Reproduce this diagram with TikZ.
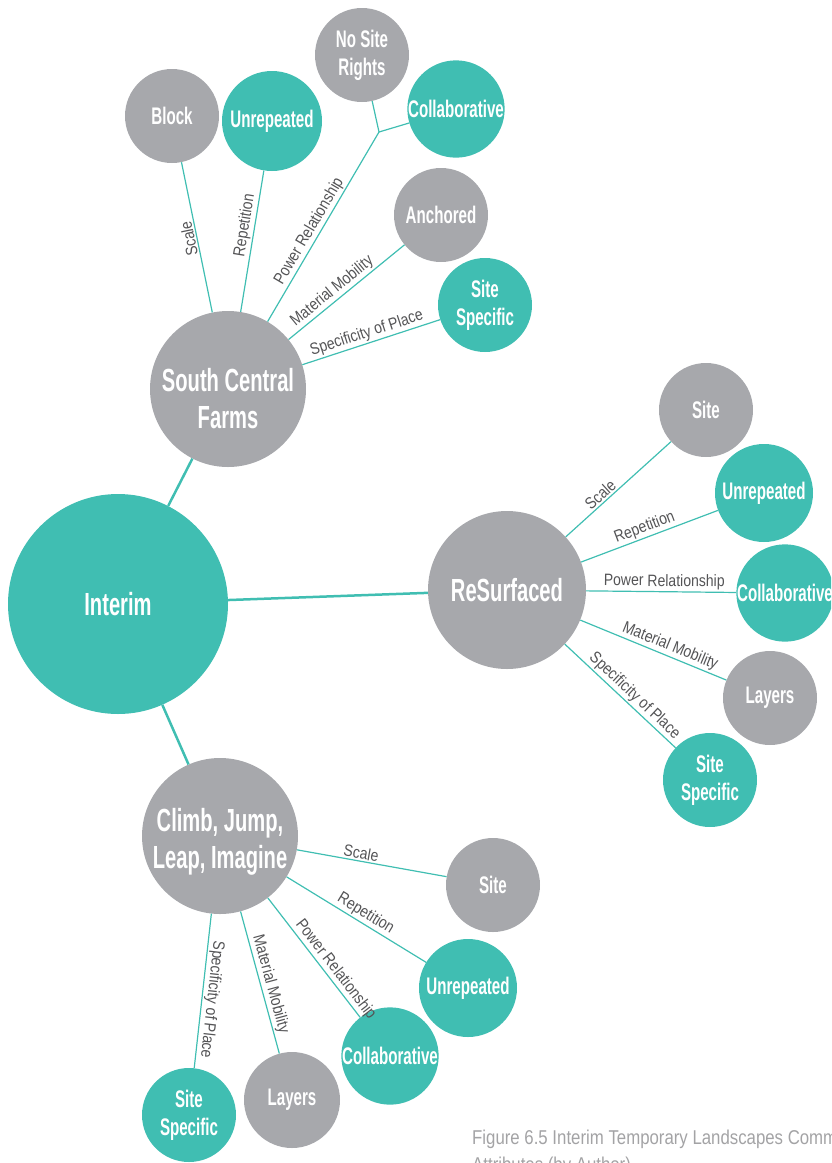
\documentclass[tikz,border=0pt]{standalone}
\usepackage{fontspec}
\newfontfamily\nodeff[FakeStretch=0.63]{Liberation Sans}
\newfontfamily\lblff[FakeStretch=0.85]{Liberation Sans}
\newfontfamily\capff[FakeStretch=0.84]{Liberation Sans}
\definecolor{tealc}{HTML}{40BEB2}
\definecolor{grayc}{HTML}{A7A8AC}
\definecolor{lblc}{HTML}{545456}
\definecolor{capc}{HTML}{A3A3A5}
\begin{document}
\begin{tikzpicture}[x=1pt,y=-1pt,
  circ/.style={circle, inner sep=0pt, minimum size=#1, text=white, align=center},
  bigtxt/.style={font=\nodeff\bfseries\fontsize{32}{37}\selectfont},
  smalltxt/.style={font=\nodeff\bfseries\fontsize{24}{28}\selectfont},
  tnode/.style={circ=#1, fill=tealc},
  gnode/.style={circ=#1, fill=grayc},
  inlabel/.style={bigtxt, text=white, align=center, inner sep=0pt},
  trunk/.style={draw=tealc, line width=2.5pt},
  branch/.style={draw=tealc, line width=1.2pt},
  lbl/.style={font=\lblff\fontsize{16.5}{18}\selectfont, text=lblc, inner sep=1.5pt, sloped, above},
  captxt/.style={font=\capff\fontsize{20}{27}\selectfont, text=capc, inner sep=0pt, align=left}
]
\useasboundingbox (0,0) rectangle (831,1163);
\clip (0,0) rectangle (831,1163);

% main nodes
\node[tnode=220pt, bigtxt] (interim) at (118,604) {Interim};
\node[gnode=156pt, label={[inlabel, yshift=-10pt]center:South Central\\Farms}] (scf) at (228,389) {};
\node[gnode=158pt, bigtxt] (res) at (507,590) {ReSurfaced};
\node[gnode=156pt, label={[inlabel, yshift=-6pt]center:Climb, Jump,\\Leap, Imagine}] (cjl) at (220,836) {};

% top cluster
\node[gnode=94pt, smalltxt] (block) at (172,116) {Block};
\node[tnode=100pt, smalltxt] (unr1) at (272,121) {Unrepeated};
\node[gnode=94pt, smalltxt] (nsr) at (362,55) {No Site\\Rights};
\node[tnode=94pt, smalltxt] (col1) at (456,109) {Collaborative};
\node[gnode=94pt, smalltxt] (anch) at (441,215) {Anchored};
\node[tnode=94pt, smalltxt] (ss1) at (485,305) {Site\\Specific};
\coordinate (junc) at (379,132);

% right cluster
\node[gnode=94pt, smalltxt] (site2) at (706,410) {Site};
\node[tnode=98pt, smalltxt] (unr2) at (764,493) {Unrepeated};
\node[tnode=94pt, smalltxt] (col2) at (785,593) {Collaborative};
\node[gnode=94pt, smalltxt] (lay2) at (770,698) {Layers};
\node[tnode=94pt, smalltxt] (ss2) at (710,780) {Site\\Specific};

% bottom cluster
\node[gnode=94pt, smalltxt] (site3) at (493,885) {Site};
\node[tnode=98pt, smalltxt] (unr3) at (468,988) {Unrepeated};
\node[tnode=94pt, smalltxt] (col3) at (390,1056) {Collaborative};
\node[gnode=96pt, smalltxt] (lay3) at (292,1100) {Layers};
\node[tnode=94pt, smalltxt] (ss3) at (189,1115) {Site\\Specific};

% trunks
\draw[trunk] (interim) -- (scf);
\draw[trunk] (interim) -- (res);
\draw[trunk] (interim) -- (cjl);

% top branches
\draw[branch] (scf) -- node[lbl, pos=0.5, allow upside down] {Scale} (block);
\draw[branch] (scf) -- node[lbl, pos=0.6] {Repetition} (unr1);
\draw[branch] (scf) -- node[lbl, pos=0.45] {Power Relationship} (junc);
\draw[branch] (junc) -- (nsr);
\draw[branch] (junc) -- (col1);
\draw[branch] (scf) -- node[lbl, pos=0.43] {Material Mobility} (anch);
\draw[branch] (scf) -- node[lbl, pos=0.49] {Specificity of Place} (ss1);

% right branches
\draw[branch] (res) -- node[lbl, pos=0.38] {Scale} (site2);
\draw[branch] (res) -- node[lbl, pos=0.49] {Repetition} (unr2);
\draw[branch] (res) -- node[lbl, pos=0.52] {Power Relationship} (col2);
\draw[branch] (res) -- node[lbl, pos=0.59] {Material Mobility} (lay2);
\draw[branch] (res) -- node[lbl, pos=0.57] {Specificity of Place} (ss2);

% bottom branches
\draw[branch] (cjl) -- node[lbl, pos=0.42] {Scale} (site3);
\draw[branch] (cjl) -- node[lbl, pos=0.53] {Repetition} (unr3);
\draw[branch] (cjl) -- node[lbl, pos=0.65] {Power Relationship} (col3);
\draw[branch] (cjl) -- node[lbl, pos=0.53] {Material Mobility} (lay3);
\draw[branch] (cjl) -- node[lbl, pos=0.55, allow upside down] {Specificity of Place} (ss3);

% caption
\node[captxt, anchor=base west] (cap) at (472,1171) {Figure 6.5 Interim Temporary Landscapes Common\\Attributes (by Author)};
\end{tikzpicture}
\end{document}
